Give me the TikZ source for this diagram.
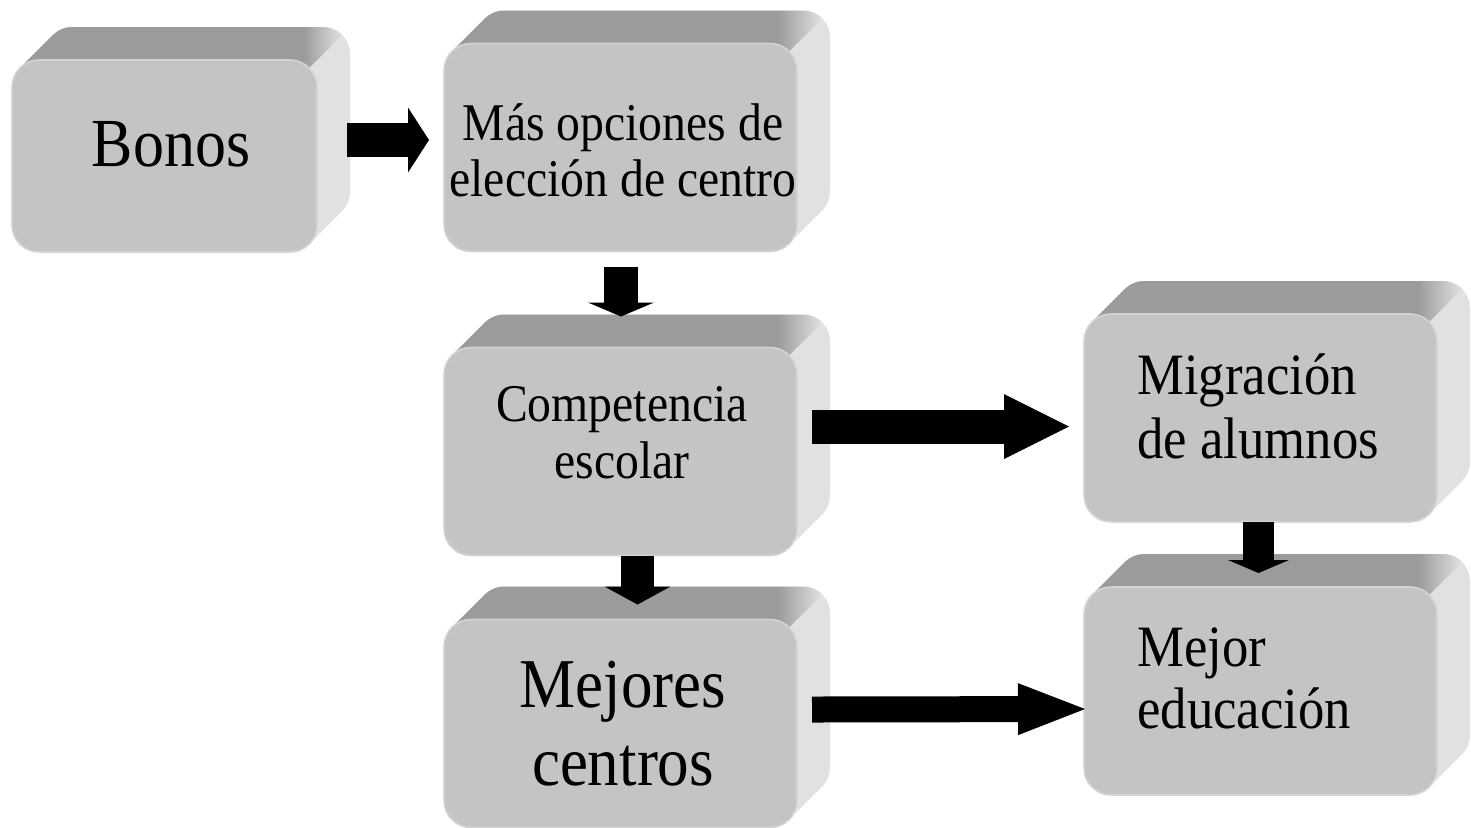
\documentclass[tikz,border=0pt]{standalone}
\usepackage{fontspec}
\setmainfont{Liberation Serif}[FakeStretch=0.9]
\usepackage{tikz}
\usetikzlibrary{positioning, arrows.meta, backgrounds}

\definecolor{frontgray}{HTML}{C4C4C4}
\definecolor{edgegray}{HTML}{D4D4D4}
\definecolor{topgray}{HTML}{9B9B9B}
\definecolor{sidegray}{HTML}{E1E1E1}
\pgfdeclarehorizontalshading{topfade}{100bp}{color(0bp)=(topgray); color(69bp)=(topgray); color(75bp)=(sidegray); color(100bp)=(sidegray)}

\begin{document}
\begin{tikzpicture}[
	  x=0.5pt, y=-0.5pt,
	  face/.style={
	    draw=edgegray,
	    line width=0.8pt,
	    fill=frontgray,
	    rounded corners=13.5pt,
	    minimum width=176.5pt,
	    minimum height=104pt,
	    inner sep=0pt,
	    outer sep=0pt
	  },
	  lbl/.style={inner sep=0pt, align=center},
	  fatarrow/.style n args={3}{line width=#1, -{Triangle[length=#2, width=#3, line width=0pt]}}
	]
	\useasboundingbox (0,0) rectangle (1471,827);

	% --- Column 1 ---
	\node[face, minimum width=152.5pt, minimum height=96pt] (bonos) at (164.5,156) {};

	% --- Column 2 ---
	\node[face, right=63.5pt of bonos, yshift=4.25pt] (eleccion) {};
	\node[face, below=48pt of eleccion] (competencia) {};
	\node[face, below=32pt of competencia] (mejores) {};

	% --- Column 3 ---
	\node[face, right=143.5pt of competencia, yshift=16.75pt] (migracion) {};
	\node[face, below=32.5pt of migracion] (educacion) {};

	% --- extruded top and right sides ---
	\begin{scope}[on background layer]
	\foreach \b in {bonos, eleccion, competencia, mejores, migracion, educacion} {
	  \fill[sidegray]
	    ([shift={(3.95pt,-3.95pt)}]\b.north west) -- ++(16.5pt,16.5pt)
	    arc[start angle=135, end angle=90, radius=13.5pt]
	    -- ([shift={(3pt,16.5pt)}]\b.north east)
	    arc[start angle=90, end angle=0, radius=13.5pt]
	    -- ([shift={(16.5pt,30pt)}]\b.south east)
	    arc[start angle=0, end angle=-45, radius=13.5pt]
	    -- ([shift={(-3.95pt,3.95pt)}]\b.south east)
	    -- (\b.center) -- cycle;
	  \shade[shading=topfade]
	    ([shift={(3.95pt,-3.95pt)}]\b.north west) -- ++(16.5pt,16.5pt)
	    arc[start angle=135, end angle=90, radius=13.5pt]
	    -- ([shift={(3pt,16.5pt)}]\b.north east)
	    arc[start angle=90, end angle=45, radius=13.5pt]
	    -- ([shift={(-3.95pt,-3.95pt)}]\b.north east)
	    -- (\b.center) -- cycle;
	}
	\end{scope}

	% --- Texts (base = baseline of the last line) ---
	\node[lbl, font=\fontsize{34.4pt}{36pt}\selectfont, anchor=base] (bonos-lbl)
	  at ([shift={(6.5,10)}]bonos.center) {Bonos};
	\node[lbl, font=\fontsize{26.5pt}{28pt}\selectfont, anchor=base] (eleccion-lbl)
	  at ([shift={(2.5,48.5)}]eleccion.center) {Más opciones de\\elección de centro};
	\node[lbl, font=\fontsize{26.5pt}{28.5pt}\selectfont, anchor=base] (competencia-lbl)
	  at ([shift={(1.5,26.5)}]competencia.center) {Competencia\\escolar};
	\node[lbl, font=\fontsize{35pt}{39pt}\selectfont, anchor=base] (mejores-lbl)
	  at ([shift={(2.5,61.5)}]mejores.center) {Mejores\\centros};
	\node[lbl, align=left, font=\fontsize{29.3pt}{32pt}\selectfont, anchor=base west] (migracion-lbl)
	  at ([shift={(-123.5,40)}]migracion.center) {Migración\\de alumnos};
	\node[lbl, align=left, font=\fontsize{29.3pt}{31pt}\selectfont, anchor=base west] (educacion-lbl)
	  at ([shift={(-123.5,37)}]educacion.center) {Mejor\\educación};

	% --- Flows ---
	\draw[fatarrow={17pt}{10.5pt}{32.5pt}] ([shift={(30,-16)}]bonos.east) -- ([shift={(-15,-7.5)}]eleccion.west);
	\draw[fatarrow={17pt}{7pt}{33pt}] ([shift={(0.5,15)}]eleccion.south) -- ([shift={(0.5,-31)}]competencia.north);
	\draw[fatarrow={17pt}{32.5pt}{32.5pt}] ([shift={(15,-25)}]competencia.east) -- ([shift={(-15,8.5)}]migracion.west);
	\draw[fatarrow={16.5pt}{9pt}{33pt}] ([shift={(17,0)}]competencia.south) -- ([shift={(17,-15)}]mejores.north);
	\draw[fatarrow={13pt}{33.5pt}{26pt}] ([shift={(15,-14)}]mejores.east) -- ([shift={(1,18)}]educacion.west);
	\draw[fatarrow={15.5pt}{6.5pt}{30.5pt}] ([shift={(-2,0)}]migracion.south) -- ([shift={(-2,-14)}]educacion.north);

\end{tikzpicture}
\end{document}
